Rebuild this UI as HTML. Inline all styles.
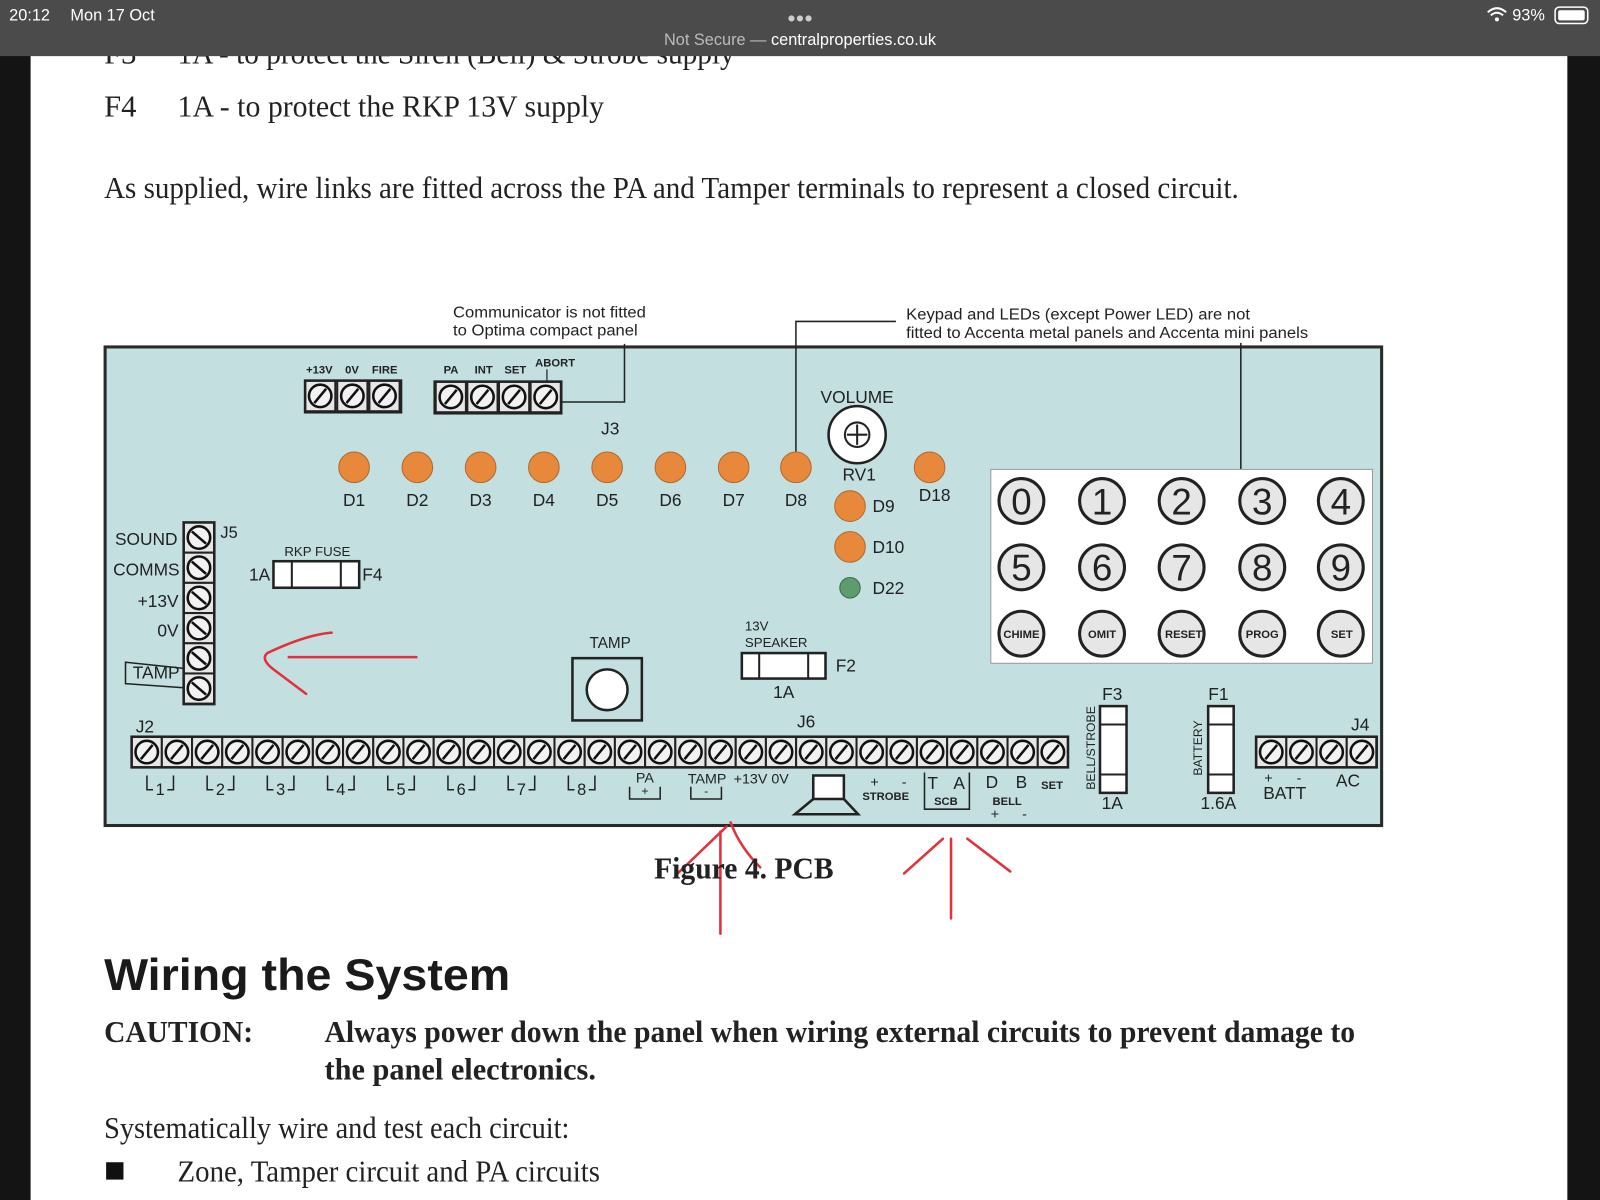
<!DOCTYPE html>
<html><head><meta charset="utf-8"><style>
html,body{margin:0;padding:0;background:#fff;width:1600px;height:1200px;overflow:hidden}
svg{display:block}
.s{font-family:"Liberation Sans",sans-serif}
.r{font-family:"Liberation Serif",serif}
</style></head><body>
<svg width="1600" height="1200" viewBox="0 0 1568 1176" preserveAspectRatio="none" xmlns="http://www.w3.org/2000/svg">
<defs>
<g id="sc"><rect x="0" y="0" width="29.6" height="30" fill="#e6e6e6" stroke="#222" stroke-width="2"/><circle cx="14.8" cy="15" r="11" fill="#f2f2f2" stroke="#111" stroke-width="2.5"/><line x1="9" y1="22" x2="20.6" y2="8" stroke="#111" stroke-width="2.5"/></g>
<g id="sv"><rect x="0" y="0" width="30" height="29.6" fill="#e6e6e6" stroke="#222" stroke-width="2"/><circle cx="15" cy="14.8" r="11" fill="#f2f2f2" stroke="#111" stroke-width="2.5"/><line x1="8" y1="8.8" x2="22" y2="20.8" stroke="#111" stroke-width="2.5"/></g>
</defs>
<rect width="1568" height="1176" fill="#fff"/>
<rect x="0" y="0" width="30" height="1176" fill="#141414"/>
<rect x="1536" y="0" width="32" height="1176" fill="#141414"/>
<text x="102" y="62" class="r" font-size="30" fill="#222">F3</text>
<text x="174" y="62" class="r" font-size="30" fill="#222" textLength="546" lengthAdjust="spacingAndGlyphs">1A - to protect the Siren (Bell) &amp; Strobe supply</text>
<rect x="0" y="0" width="1568" height="55" fill="#4b4b4b"/>
<text x="9" y="20" class="s" font-size="16" fill="#fff">20:12</text>
<text x="69" y="20" class="s" font-size="16" fill="#fff">Mon 17 Oct</text>
<text x="784" y="22" class="s" font-size="14" fill="#ccc" text-anchor="middle">●●●</text>
<text x="784" y="44" class="s" font-size="16" fill="#bbb" text-anchor="middle">Not Secure — <tspan fill="#fff">centralproperties.co.uk</tspan></text>
<text x="1482" y="20" class="s" font-size="16" fill="#fff">93%</text>
<rect x="1524" y="7" width="32" height="16" rx="4" fill="none" stroke="#fff" stroke-width="1.5"/><rect x="1527" y="10" width="26" height="10" rx="2" fill="#fff"/>
<path d="M1458 12 q9 -8 18 0 M1461 15 q6 -5 12 0" stroke="#fff" stroke-width="2" fill="none"/><circle cx="1467" cy="19" r="2" fill="#fff"/>

<text x="102" y="114" class="r" font-size="30" fill="#222">F4</text>
<text x="174" y="114" class="r" font-size="30" fill="#222" textLength="418" lengthAdjust="spacingAndGlyphs">1A - to protect the RKP 13V supply</text>
<text x="102" y="194" class="r" font-size="30" fill="#222" textLength="1112" lengthAdjust="spacingAndGlyphs">As supplied, wire links are fitted across the PA and Tamper terminals to represent a closed circuit.</text>

<text x="444" y="311" class="s" font-size="15" fill="#222" textLength="189" lengthAdjust="spacingAndGlyphs">Communicator is not fitted</text>
<text x="444" y="329" class="s" font-size="15" fill="#222" textLength="181" lengthAdjust="spacingAndGlyphs">to Optima compact panel</text>
<text x="888" y="313" class="s" font-size="15" fill="#222" textLength="337" lengthAdjust="spacingAndGlyphs">Keypad and LEDs (except Power LED) are not</text>
<text x="888" y="331" class="s" font-size="15" fill="#222" textLength="394" lengthAdjust="spacingAndGlyphs">fitted to Accenta metal panels and Accenta mini panels</text>

<rect x="103" y="340" width="1251" height="469" fill="#c3dfdf" stroke="#2a2a2a" stroke-width="3"/>
<polyline points="612,337 612,394 550,394" fill="none" stroke="#222" stroke-width="1.5"/>
<polyline points="878,315 780,315 780,444" fill="none" stroke="#222" stroke-width="1.5"/>
<line x1="1216" y1="336" x2="1216" y2="462" stroke="#222" stroke-width="1.5"/>
<line x1="536" y1="362" x2="536" y2="375" stroke="#222" stroke-width="1.2"/>

<g class="s" font-size="11" font-weight="bold" fill="#222">
<text x="313" y="366" text-anchor="middle">+13V</text><text x="345" y="366" text-anchor="middle">0V</text><text x="377" y="366" text-anchor="middle">FIRE</text>
<text x="442" y="366" text-anchor="middle">PA</text><text x="474" y="366" text-anchor="middle">INT</text><text x="505" y="366" text-anchor="middle">SET</text><text x="544" y="359" text-anchor="middle">ABORT</text>
</g>
<use href="#sc" x="299" y="373"/><use href="#sc" x="330.5" y="373"/><use href="#sc" x="362" y="373"/>
<rect x="299" y="373" width="94" height="31" fill="none" stroke="#222" stroke-width="2.5"/>
<use href="#sc" x="427" y="374"/><use href="#sc" x="458" y="374"/><use href="#sc" x="489" y="374"/><use href="#sc" x="520" y="374"/>
<rect x="426" y="374" width="124" height="31" fill="none" stroke="#222" stroke-width="2.5"/>

<g class="s" font-size="17" fill="#222" text-anchor="middle">
<text x="598" y="426">J3</text>
<text x="347" y="496">D1</text><text x="409" y="496">D2</text><text x="471" y="496">D3</text><text x="533" y="496">D4</text><text x="595" y="496">D5</text><text x="657" y="496">D6</text><text x="719" y="496">D7</text><text x="780" y="496">D8</text>
<text x="916" y="491">D18</text><text x="840" y="395">VOLUME</text><text x="842" y="471">RV1</text>
</g>
<g fill="#e8883a" stroke="#b06a30" stroke-width="1">
<circle cx="347" cy="458" r="15"/><circle cx="409" cy="458" r="15"/><circle cx="471" cy="458" r="15"/><circle cx="533" cy="458" r="15"/><circle cx="595" cy="458" r="15"/><circle cx="657" cy="458" r="15"/><circle cx="719" cy="458" r="15"/><circle cx="780" cy="458" r="15"/><circle cx="911" cy="458" r="15"/>
<circle cx="833" cy="496" r="15"/><circle cx="833" cy="536" r="15"/>
</g>
<circle cx="833" cy="576" r="10" fill="#5e9c6e" stroke="#3d6a4a"/>
<g class="s" font-size="17" fill="#222"><text x="855" y="502">D9</text><text x="855" y="542">D10</text><text x="855" y="582">D22</text></g>
<circle cx="840" cy="426" r="28" fill="#fff" stroke="#222" stroke-width="2.5"/>
<circle cx="840" cy="426" r="12" fill="none" stroke="#222" stroke-width="2"/>
<path d="M840 416v20M830 426h20" stroke="#222" stroke-width="2"/>

<rect x="971" y="460" width="374" height="190" fill="#fff" stroke="#999" stroke-width="1"/>
<g fill="#e6e6e6" stroke="#222" stroke-width="3">
<circle cx="1001" cy="491" r="22"/><circle cx="1080" cy="491" r="22"/><circle cx="1158" cy="491" r="22"/><circle cx="1237" cy="491" r="22"/><circle cx="1314" cy="491" r="22"/>
<circle cx="1001" cy="556" r="22"/><circle cx="1080" cy="556" r="22"/><circle cx="1158" cy="556" r="22"/><circle cx="1237" cy="556" r="22"/><circle cx="1314" cy="556" r="22"/>
<circle cx="1001" cy="621" r="22"/><circle cx="1080" cy="621" r="22"/><circle cx="1158" cy="621" r="22"/><circle cx="1237" cy="621" r="22"/><circle cx="1314" cy="621" r="22"/>
</g>
<g class="s" font-size="36" fill="#222" text-anchor="middle">
<text x="1001" y="504">0</text><text x="1080" y="504">1</text><text x="1158" y="504">2</text><text x="1237" y="504">3</text><text x="1314" y="504">4</text>
<text x="1001" y="569">5</text><text x="1080" y="569">6</text><text x="1158" y="569">7</text><text x="1237" y="569">8</text><text x="1314" y="569">9</text>
</g>
<g class="s" font-size="11" font-weight="bold" fill="#222" text-anchor="middle">
<text x="1001" y="625">CHIME</text><text x="1080" y="625">OMIT</text><text x="1160" y="625">RESET</text><text x="1237" y="625">PROG</text><text x="1315" y="625">SET</text>
</g>

<use href="#sv" x="180" y="512"/><use href="#sv" x="180" y="541.6"/><use href="#sv" x="180" y="571.2"/><use href="#sv" x="180" y="600.8"/><use href="#sv" x="180" y="630.4"/><use href="#sv" x="180" y="660"/>
<rect x="180" y="512" width="30" height="178" fill="none" stroke="#222" stroke-width="2.5"/>
<g class="s" font-size="17" fill="#222" text-anchor="end">
<text x="174" y="534">SOUND</text><text x="176" y="564">COMMS</text><text x="175" y="595">+13V</text><text x="175" y="624">0V</text><text x="176" y="665">TAMP</text>
</g>
<path d="M180 655 L123 649 L123 670 L180 674" fill="none" stroke="#222" stroke-width="1.5"/>
<text x="216" y="527" class="s" font-size="16" fill="#222">J5</text>

<text x="311" y="545" class="s" font-size="13" fill="#222" text-anchor="middle">RKP FUSE</text>
<rect x="268" y="550" width="84" height="26" fill="#fff" stroke="#222" stroke-width="2.5"/>
<line x1="286" y1="550" x2="286" y2="576" stroke="#222" stroke-width="2"/><line x1="334" y1="550" x2="334" y2="576" stroke="#222" stroke-width="2"/>
<text x="244" y="569" class="s" font-size="17" fill="#222">1A</text><text x="355" y="569" class="s" font-size="17" fill="#222">F4</text>

<text x="598" y="635" class="s" font-size="15" fill="#222" text-anchor="middle">TAMP</text>
<rect x="561" y="645" width="68" height="61" fill="#c3dfdf" stroke="#222" stroke-width="2.5"/>
<circle cx="595" cy="676" r="20" fill="#fff" stroke="#222" stroke-width="2.5"/>

<text x="730" y="618" class="s" font-size="13" fill="#222">13V</text>
<text x="730" y="634" class="s" font-size="13" fill="#222">SPEAKER</text>
<rect x="727" y="640" width="82" height="25" fill="#fff" stroke="#222" stroke-width="2.5"/>
<line x1="744" y1="640" x2="744" y2="665" stroke="#222" stroke-width="2"/><line x1="792" y1="640" x2="792" y2="665" stroke="#222" stroke-width="2"/>
<text x="819" y="658" class="s" font-size="17" fill="#222">F2</text>
<text x="768" y="684" class="s" font-size="17" fill="#222" text-anchor="middle">1A</text>

<text x="133" y="718" class="s" font-size="17" fill="#222">J2</text>
<text x="790" y="713" class="s" font-size="17" fill="#222" text-anchor="middle">J6</text>
<g>
<use href="#sc" x="129" y="722"/><use href="#sc" x="158.6" y="722"/><use href="#sc" x="188.2" y="722"/><use href="#sc" x="217.8" y="722"/><use href="#sc" x="247.4" y="722"/><use href="#sc" x="277" y="722"/><use href="#sc" x="306.6" y="722"/><use href="#sc" x="336.2" y="722"/><use href="#sc" x="365.8" y="722"/><use href="#sc" x="395.4" y="722"/><use href="#sc" x="425" y="722"/><use href="#sc" x="454.6" y="722"/><use href="#sc" x="484.2" y="722"/><use href="#sc" x="513.8" y="722"/><use href="#sc" x="543.4" y="722"/><use href="#sc" x="573" y="722"/><use href="#sc" x="602.6" y="722"/><use href="#sc" x="632.2" y="722"/><use href="#sc" x="661.8" y="722"/><use href="#sc" x="691.4" y="722"/><use href="#sc" x="721" y="722"/><use href="#sc" x="750.6" y="722"/><use href="#sc" x="780.2" y="722"/><use href="#sc" x="809.8" y="722"/><use href="#sc" x="839.4" y="722"/><use href="#sc" x="869" y="722"/><use href="#sc" x="898.6" y="722"/><use href="#sc" x="928.2" y="722"/><use href="#sc" x="957.8" y="722"/><use href="#sc" x="987.4" y="722"/><use href="#sc" x="1017" y="722"/>
</g>
<rect x="129" y="722" width="917.6" height="30" fill="none" stroke="#222" stroke-width="2.5"/>
<g fill="none" stroke="#222" stroke-width="1.5">
<path d="M144 760v14h6M170 760v14h-6"/><path d="M203 760v14h6M229 760v14h-6"/><path d="M262 760v14h6M288 760v14h-6"/><path d="M321 760v14h6M347 760v14h-6"/><path d="M380 760v14h6M406 760v14h-6"/><path d="M439 760v14h6M465 760v14h-6"/><path d="M498 760v14h6M524 760v14h-6"/><path d="M557 760v14h6M583 760v14h-6"/>
<path d="M617 771v12h30v-12"/><path d="M677 771v12h30v-12"/>
</g>
<g class="s" font-size="16" fill="#222" text-anchor="middle">
<text x="157" y="779">1</text><text x="216" y="779">2</text><text x="275" y="779">3</text><text x="334" y="779">4</text><text x="393" y="779">5</text><text x="452" y="779">6</text><text x="511" y="779">7</text><text x="570" y="779">8</text>
</g>
<g class="s" font-size="14" fill="#222" text-anchor="middle">
<text x="632" y="767">PA</text><text x="632" y="779" font-size="12">+</text><text x="693" y="768">TAMP</text><text x="692" y="779" font-size="12">-</text><text x="746" y="768">+13V 0V</text>
<text x="857" y="771">+</text><text x="886" y="771">-</text>
<text x="914" y="773" font-size="17">T</text><text x="940" y="773" font-size="17">A</text>
<text x="972" y="772" font-size="17">D</text><text x="1001" y="772" font-size="17">B</text>
<text x="975" y="802">+</text><text x="1004" y="802">-</text>
</g>
<g class="s" font-size="11" font-weight="bold" fill="#222" text-anchor="middle">
<text x="868" y="784">STROBE</text><text x="927" y="789">SCB</text><text x="1031" y="773">SET</text><text x="987" y="789">BELL</text>
</g>
<path d="M906 757v36h44v-36" fill="none" stroke="#222" stroke-width="1.5"/>
<rect x="797" y="760" width="30" height="23" fill="#fff" stroke="#222" stroke-width="2.5"/>
<path d="M797 783 L779 798 L841 798 L827 783" fill="none" stroke="#222" stroke-width="2.5"/>

<g class="s" font-size="17" fill="#222" text-anchor="middle">
<text x="1090" y="686">F3</text><text x="1090" y="793">1A</text><text x="1194" y="686">F1</text><text x="1194" y="793">1.6A</text>
<text x="1333" y="716">J4</text><text x="1259" y="783">BATT</text><text x="1321" y="771">AC</text>
<text x="1243" y="767" font-size="14">+</text><text x="1273" y="767" font-size="14">-</text>
</g>
<rect x="1078" y="692" width="26" height="85" fill="#fff" stroke="#222" stroke-width="2.5"/>
<line x1="1078" y1="710" x2="1104" y2="710" stroke="#222" stroke-width="2"/><line x1="1078" y1="759" x2="1104" y2="759" stroke="#222" stroke-width="2"/>
<rect x="1184" y="692" width="25" height="85" fill="#fff" stroke="#222" stroke-width="2.5"/>
<line x1="1184" y1="710" x2="1209" y2="710" stroke="#222" stroke-width="2"/><line x1="1184" y1="759" x2="1209" y2="759" stroke="#222" stroke-width="2"/>
<text transform="translate(1073,733) rotate(-90)" class="s" font-size="12" fill="#222" text-anchor="middle">BELL/STROBE</text>
<text transform="translate(1178,733) rotate(-90)" class="s" font-size="12" fill="#222" text-anchor="middle">BATTERY</text>
<use href="#sc" x="1231" y="722"/><use href="#sc" x="1260.6" y="722"/><use href="#sc" x="1290.2" y="722"/><use href="#sc" x="1319.8" y="722"/>
<rect x="1231" y="722" width="118" height="30" fill="none" stroke="#222" stroke-width="2.5"/>

<g fill="none" stroke="#e0323a" stroke-width="2.5" stroke-linecap="round">
<path d="M283 644 L408 644"/>
<path d="M325 620 Q300 622 262 640 Q255 646 268 656 L300 680"/>
<path d="M706 815 L706 915"/>
<path d="M662 858 L712 810 M716 806 Q725 830 745 850"/>
<path d="M932 822 L932 900"/>
<path d="M886 856 L924 822 M948 822 L990 854"/>
</g>

<text x="729" y="861" class="r" font-size="30" font-weight="bold" fill="#222" text-anchor="middle" textLength="176" lengthAdjust="spacingAndGlyphs">Figure 4. PCB</text>
<text x="102" y="970" class="s" font-size="44" font-weight="bold" fill="#1a1a1a" textLength="398" lengthAdjust="spacingAndGlyphs">Wiring the System</text>
<text x="102" y="1021" class="r" font-size="30" font-weight="bold" fill="#222" textLength="146" lengthAdjust="spacingAndGlyphs">CAUTION:</text>
<text x="318" y="1021" class="r" font-size="30" font-weight="bold" fill="#222" textLength="1010" lengthAdjust="spacingAndGlyphs">Always power down the panel when wiring external circuits to prevent damage to</text>
<text x="318" y="1058" class="r" font-size="30" font-weight="bold" fill="#222" textLength="266" lengthAdjust="spacingAndGlyphs">the panel electronics.</text>
<text x="102" y="1115" class="r" font-size="30" fill="#222" textLength="456" lengthAdjust="spacingAndGlyphs">Systematically wire and test each circuit:</text>
<rect x="104" y="1139" width="17" height="17" fill="#111"/>
<text x="174" y="1158" class="r" font-size="30" fill="#222" textLength="414" lengthAdjust="spacingAndGlyphs">Zone, Tamper circuit and PA circuits</text>
</svg>
</body></html>
